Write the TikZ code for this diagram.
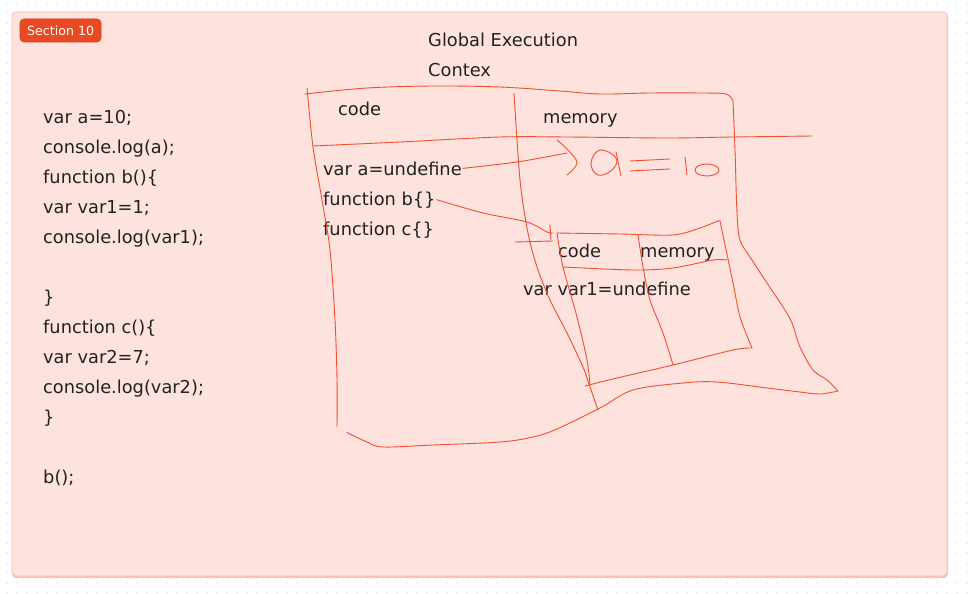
\documentclass[tikz,border=0pt]{standalone}
\usepackage{fontspec}
\setmainfont{DejaVu Sans}
\definecolor{framefill}{RGB}{253,226,222}
\definecolor{frameborder}{RGB}{246,190,178}
\definecolor{frameshadow}{RGB}{244,196,184}
\definecolor{handred}{RGB}{240,80,45}
\definecolor{tagred}{RGB}{234,74,34}
\definecolor{tagborder}{RGB}{214,60,25}
\definecolor{txt}{RGB}{34,34,34}
\definecolor{griddot}{RGB}{200,200,200}
\tikzset{
  codetext/.style={anchor=base west, inner sep=0pt, text=txt, font=\fontsize{17.8}{21}\selectfont},
  hand/.style={draw=handred, line width=0.9pt, line cap=round, line join=round},
  tagbox/.style={fill=tagred, draw=tagborder, rounded corners=4pt, line width=0.6pt},
}
\begin{document}
\begin{tikzpicture}[x=1pt,y=-1pt]
\useasboundingbox (0,0) rectangle (974,594);
\fill[white] (0,0) rectangle (974,594);
% dot grid
\foreach \gx in {7,17,...,974} {
  \foreach \gy in {3,13,...,594} {
    \fill[griddot] (\gx,\gy) circle (0.55pt);
  }
}
% section frame
\fill[frameshadow, rounded corners=4pt] (12,13) rectangle (948,578);
\draw[fill=framefill, draw=frameborder, line width=0.8pt, rounded corners=4pt] (12,12) rectangle (947,576);
% section tag
\draw[tagbox] (20,19) rectangle (101,42);
\node[anchor=base west, inner sep=0pt, text=white, font=\fontsize{12.6}{15}\selectfont] (tag) at (27,36) {Section 10};
% code listing
\node[codetext] (l1) at (43,123) {var a=10;};
\node[codetext] (l2) at (43,153) {console.log(a);};
\node[codetext] (l3) at (43,183) {function b()\{};
\node[codetext] (l4) at (43,213) {var var1=1;};
\node[codetext] (l5) at (43,243) {console.log(var1);};
\node[codetext] (l7) at (43,303) {\}};
\node[codetext] (l8) at (43,333) {function c()\{};
\node[codetext] (l9) at (43,363) {var var2=7;};
\node[codetext] (l10) at (43,393) {console.log(var2);};
\node[codetext] (l11) at (43,423) {\}};
\node[codetext] (l13) at (43,483) {b();};
% title
\node[codetext] (t1) at (428,47) {Global Execution};
\node[codetext] (t2) at (428,77) {Contex};
% global context labels
\node[codetext] (gcode) at (338,115) {code};
\node[codetext] (gmem) at (543,123) {memory};
\node[codetext] (ua) at (323,175) {var a=undefine};
\node[codetext] (fb) at (323,205) {function b\{\}};
\node[codetext] (fc) at (323,235) {function c\{\}};
% inner context labels
\node[codetext] (icode) at (558,257) {code};
\node[codetext] (imem) at (640,257) {memory};
\node[codetext] (iv) at (523,295) {var var1=undefine};
% outer hand-drawn box
\draw[hand] plot[smooth, tension=0.55] coordinates {(305,94) (367,88) (433,86) (500,87) (560,91) (600,94) (650,93) (700,93) (726,94) (733,101)};
\draw[hand] plot[smooth, tension=0.55] coordinates {(733,101) (735,150) (737,213) (740,240) (750,257) (767,283) (783,307) (792,323) (800,347) (813,370) (827,380) (838,391)};
\draw[hand] plot[smooth, tension=0.55] coordinates {(838,391) (820,394) (800,392) (767,388) (717,382) (683,383) (633,390) (600,408) (557,429) (533,437) (500,442) (433,445) (383,447) (367,442) (350,434) (347,432)};
\draw[hand] plot[smooth, tension=0.5] coordinates {(307,88) (313,147) (322,200) (330,250) (335,320) (337,380) (337,427)};
\draw[hand] plot[smooth, tension=0.5] coordinates {(313,146) (400,142) (500,137) (567,137) (667,138) (733,137) (812,136)};
\draw[hand] plot[smooth, tension=0.5] coordinates {(514,93) (520,180) (528,233) (537,267) (550,300) (567,333) (583,367) (590,387) (598,410)};
% a = 10 scribble
\coordinate (ae) at (567,153);
\draw[hand] plot[smooth, tension=0.5] coordinates {([xshift=1pt]ua.east) (517,162) (ae)};
\draw[hand] plot[smooth, tension=0.6] coordinates {(557,140) (568,150) (577,163) (567,175)};
\draw[hand] plot[smooth cycle, tension=0.7] coordinates {(616,158) (600,150) (591,163) (598,175) (612,170)};
\draw[hand] (616,152) -- (621,176);
\draw[hand] (630,161) -- (670,159);
\draw[hand] (630,171) -- (670,169);
\draw[hand] (685,157) -- (687,175);
\draw[hand] (707,170) ellipse (12pt and 6pt);
% function b link
\coordinate (fbe) at (553,233);
\draw[hand] plot[smooth, tension=0.5] coordinates {([xshift=1pt]fb.east) (483,213) (527,222) (547,232) (fbe)};
\draw[hand] (550,225) -- (551,240);
\draw[hand] (515,242) -- (553,241);
% inner execution context box
\draw[hand] plot[smooth, tension=0.5] coordinates {(557,233) (620,234) (673,235) (700,228) (718,221) (720,221)};
\draw[hand] plot[smooth, tension=0.5] coordinates {(720,221) (733,283) (740,317) (752,348)};
\draw[hand] plot[smooth, tension=0.5] coordinates {(752,348) (733,350) (673,365) (617,378) (585,386)};
\draw[hand] plot[smooth, tension=0.5] coordinates {(557,233) (563,267) (577,317) (587,360) (590,385)};
\draw[hand] plot[smooth, tension=0.5] coordinates {(563,267) (633,270) (673,268) (713,260) (727,260)};
\draw[hand] plot[smooth, tension=0.5] coordinates {(638,235) (643,267) (650,300) (663,333) (673,365)};
\end{tikzpicture}
\end{document}
